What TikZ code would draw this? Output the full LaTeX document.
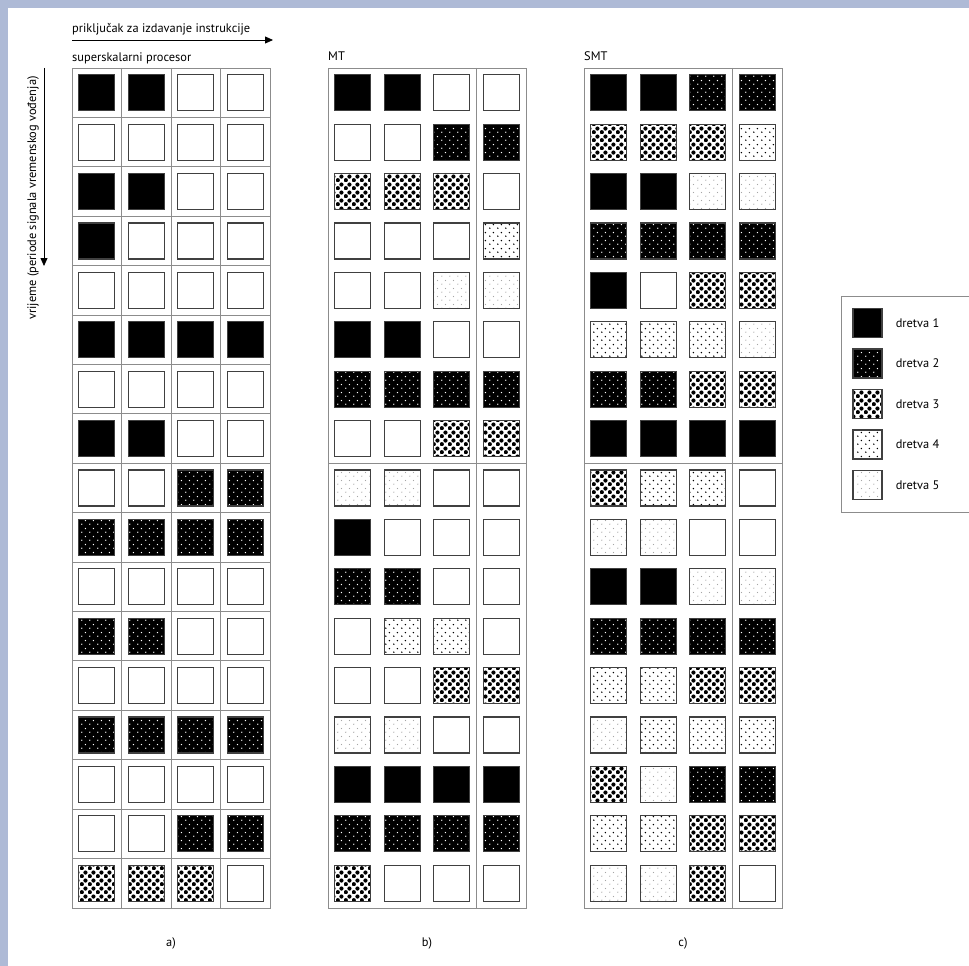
\documentclass[tikz,border=0pt]{standalone}
\usepackage{fontspec}
\setmainfont{PT Sans}
\usetikzlibrary{arrows.meta, patterns, positioning}

\definecolor{bgblue}{RGB}{174,186,214}

% dot screens, 8pt tile with staggered rows
\newcommand{\dotscreen}[2]{%
  \pgfdeclarepatternformonly{#1}{\pgfqpoint{0pt}{0pt}}{\pgfqpoint{8pt}{8pt}}{\pgfqpoint{8pt}{8pt}}{%
    \pgfpathcircle{\pgfqpoint{2pt}{2pt}}{#2}%
    \pgfpathcircle{\pgfqpoint{6pt}{6pt}}{#2}%
    \pgfusepath{fill}}}
\dotscreen{whitedots}{0.8pt}
\dotscreen{bigdots}{2.3pt}
\dotscreen{finedots}{0.85pt}
\dotscreen{faintdots}{0.7pt}

\begin{document}
\begin{tikzpicture}[
    x=1pt, y=-1pt,
    >=Stealth,
    lbl/.style={font=\fontsize{12.4}{14}\selectfont, inner sep=0pt},
    gridline/.style={draw=black!45, line width=0.9pt},
    slot/.style={draw=black!75, line width=1.2pt, minimum size=36pt, inner sep=0pt},
    thr0/.style={slot, fill=white},
    thr1/.style={slot, fill=black},
    thr2/.style={slot, preaction={fill=black}, pattern=whitedots, pattern color=white},
    thr3/.style={slot, preaction={fill=white}, pattern=bigdots, pattern color=black},
    thr4/.style={slot, preaction={fill=white}, pattern=finedots, pattern color=black},
    thr5/.style={slot, preaction={fill=white}, pattern=faintdots, pattern color=black!35},
    arr/.style={-{Triangle[length=8pt, width=7pt]}, line width=0.8pt},
]
\useasboundingbox (0,0) rectangle (969,966);
\fill[bgblue] (0,0) rectangle (969,966);
\fill[white] (8,8) rectangle (969,966);
% === Axes ===
\node[lbl, anchor=base west] (issue) at (72,33) {priključak za izdavanje instrukcije};
\coordinate (issue-start) at (72,40);
\coordinate (issue-end) at (273,40);
\draw[arr] (issue-start) -- (issue-end);
\node[lbl, anchor=base west, rotate=90] (time) at (36,320) {vrijeme (periode signala vremenskog vođenja)};
\coordinate (time-start) at (44,68);
\coordinate (time-end) at (44,266);
\draw[arr] (time-start) -- (time-end);
% === a) superscalar ===
\node[lbl, anchor=base west] (titlea) at (72,62) {superskalarni procesor};
\draw[gridline] (72,68) rectangle (270,908);
\foreach \c in {1,2,3} \draw[gridline] (72+\c*49.5,68) -- (72+\c*49.5,908);
\foreach \r in {1,...,16} \draw[gridline] (72,68+\r*49.41) -- (270,68+\r*49.41);
\foreach \row [count=\r] in {{1,1,0,0},{0,0,0,0},{1,1,0,0},{1,0,0,0},{0,0,0,0},{1,1,1,1},{0,0,0,0},{1,1,0,0},
    {0,0,2,2},{2,2,2,2},{0,0,0,0},{2,2,0,0},{0,0,0,0},{2,2,2,2},{0,0,0,0},{0,0,2,2},{3,3,3,0}} {
    \foreach \v [count=\c] in \row {
        \node[thr\v] (a\r-\c) at (72+\c*49.5-24.75, 68+\r*49.41-24.7) {};
    }
}
\node[lbl] (capa) at (171,943) {a)};
% === b) MT ===
\node[lbl, anchor=base west] (titleb) at (328,60) {MT};
\draw[gridline] (328,68) rectangle (526,908);
\draw[gridline] (476.5,68) -- (476.5,908);
\draw[gridline] (328,463.3) -- (526,463.3);
\foreach \row [count=\r] in {{1,1,0,0},{0,0,2,2},{3,3,3,0},{0,0,0,4},{0,0,5,5},{1,1,0,0},{2,2,2,2},{0,0,3,3},
    {5,5,0,0},{1,0,0,0},{2,2,0,0},{0,4,4,0},{0,0,3,3},{5,5,0,0},{1,1,1,1},{2,2,2,2},{3,0,0,0}} {
    \foreach \v [count=\c] in \row {
        \node[thr\v] (b\r-\c) at (328+\c*49.5-24.75, 68+\r*49.41-24.7) {};
    }
}
\node[lbl] (capb) at (427,943) {b)};
% === c) SMT ===
\node[lbl, anchor=base west] (titlec) at (584,60) {SMT};
\draw[gridline] (584,68) rectangle (782,908);
\draw[gridline] (732.5,68) -- (732.5,908);
\draw[gridline] (584,463.3) -- (782,463.3);
\foreach \row [count=\r] in {{1,1,2,2},{3,3,3,4},{1,1,5,5},{2,2,2,2},{1,0,3,3},{4,4,4,5},{2,2,3,3},{1,1,1,1},
    {3,4,4,0},{5,5,0,0},{1,1,5,5},{2,2,2,2},{4,4,3,3},{5,4,4,4},{3,5,2,2},{4,4,3,3},{5,5,3,0}} {
    \foreach \v [count=\c] in \row {
        \node[thr\v] (c\r-\c) at (584+\c*49.5-24.75, 68+\r*49.41-24.7) {};
    }
}
\node[lbl] (capc) at (683,943) {c)};
% === Legend ===
\draw[gridline] (841,296) rectangle (972,512);
\foreach \t/\yy in {1/323, 2/363.5, 3/404, 4/444.5, 5/485} {
    \node[thr\t, minimum size=29pt] (key\t) at (867.5,\yy) {};
    \node[lbl, right=13pt of key\t] (keylbl\t) {dretva \t};
}
\end{tikzpicture}
\end{document}
